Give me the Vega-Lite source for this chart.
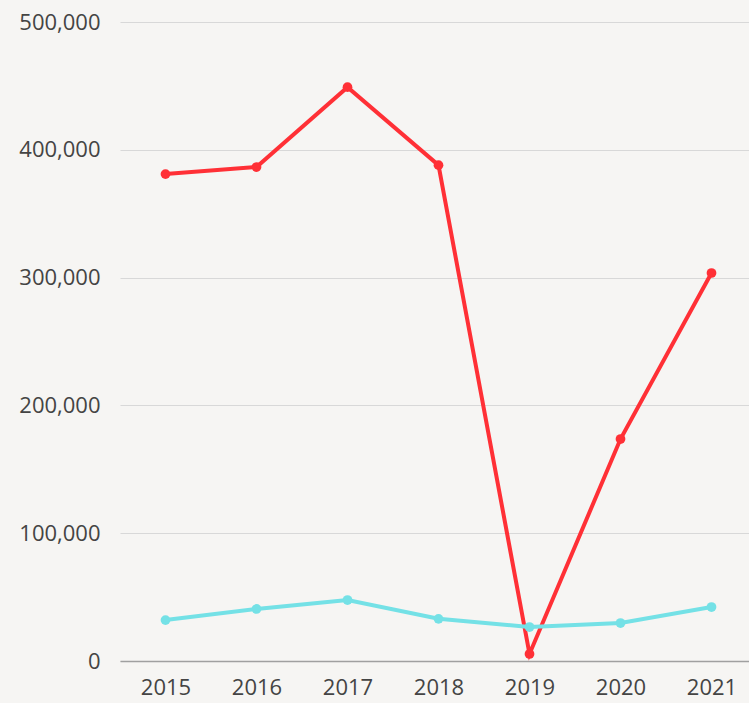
{
  "$schema": "https://vega.github.io/schema/vega-lite/v6.json",
  "autosize": {"type": "none"},
  "width": 637,
  "height": 639,
  "padding": {"left": 120, "top": 22, "right": 0, "bottom": 42},
  "background": "#f6f5f3",
  "config": {
    "view": {"stroke": null},
    "font": "Open Sans"
  },
  "data": {
    "values": [
      {"year": "2015", "series": "A", "value": 381000},
      {"year": "2016", "series": "A", "value": 386500},
      {"year": "2017", "series": "A", "value": 449000},
      {"year": "2018", "series": "A", "value": 388000},
      {"year": "2019", "series": "A", "value": 5500},
      {"year": "2020", "series": "A", "value": 173700},
      {"year": "2021", "series": "A", "value": 303600},
      {"year": "2015", "series": "B", "value": 32000},
      {"year": "2016", "series": "B", "value": 40700},
      {"year": "2017", "series": "B", "value": 47700},
      {"year": "2018", "series": "B", "value": 33000},
      {"year": "2019", "series": "B", "value": 26600},
      {"year": "2020", "series": "B", "value": 29700},
      {"year": "2021", "series": "B", "value": 42200}
    ]
  },
  "mark": {"type": "line", "strokeWidth": 4, "point": {"size": 95, "filled": true, "opacity": 1}},
  "encoding": {
    "x": {
      "field": "year", "type": "ordinal",
      "scale": {"type": "point", "padding": 0.5},
      "axis": {
        "title": null, "labelAngle": 0, "labelFontSize": 22, "labelColor": "#444444",
        "labelPadding": 16, "ticks": false, "domainColor": "#a0a0a0", "domainWidth": 1.5, "grid": false
      }
    },
    "y": {
      "field": "value", "type": "quantitative",
      "scale": {"domain": [0, 500000], "nice": false},
      "axis": {
        "title": null, "values": [0, 100000, 200000, 300000, 400000, 500000],
        "format": ",.0f", "labelFontSize": 22, "labelColor": "#444444", "labelPadding": 20,
        "ticks": false, "domain": false, "gridColor": "#d8d8d8", "gridWidth": 1.2
      }
    },
    "color": {
      "field": "series", "type": "nominal",
      "scale": {"domain": ["A", "B"], "range": ["#ff3036", "#74e1e6"]},
      "legend": null
    }
  }
}
